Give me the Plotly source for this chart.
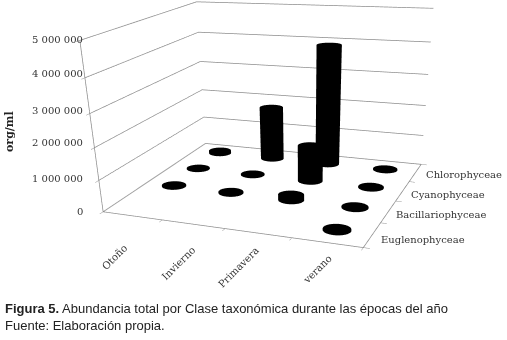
import numpy as np
import plotly.graph_objects as go

seasons = ["Otoño", "Invierno", "Primavera", "verano"]
classes = ["Euglenophyceae", "Bacillariophyceae", "Cyanophyceae", "Chlorophyceae"]
z_ticks = [0, 1000000, 2000000, 3000000, 4000000, 5000000]
z_labels = ["0", "1 000 000", "2 000 000", "3 000 000", "4 000 000", "5 000 000"]
euglenophyceae = [0, 0, 0, 40000]
bacillariophyceae = [30000, 30000, 170000, 30000]
cyanophyceae = [20000, 20000, 1180000, 30000]
chlorophyceae = [90000, 1800000, 3950000, 30000]
values = [euglenophyceae, bacillariophyceae, cyanophyceae, chlorophyceae]

W, H = 507, 650
RADIUS = 0.2
N = 48
LINE = "#8c8c8c"
SERIF = "DejaVu Serif"


def px(x):
    return x / W


def py(y):
    return 1 - y / H


def cylinder(cx, cy, h):
    t = np.linspace(0, 2 * np.pi, N, endpoint=False)
    xs = np.concatenate([cx + RADIUS * np.cos(t), cx + RADIUS * np.cos(t), [cx, cx]])
    ys = np.concatenate([cy + RADIUS * np.sin(t), cy + RADIUS * np.sin(t), [cy, cy]])
    zs = np.concatenate([np.zeros(N), np.full(N, h), [0, h]])
    i, j, k = [], [], []
    for a in range(N):
        b = (a + 1) % N
        i += [a, b, a, a + N]
        j += [b, b + N, b, b + N]
        k += [a + N, a + N, 2 * N, 2 * N + 1]
    return go.Mesh3d(x=xs, y=ys, z=zs, i=i, j=j, k=k, color="#000000", flatshading=False,
                     lighting=dict(ambient=1, diffuse=0, specular=0, roughness=1, fresnel=0),
                     hoverinfo="skip", showscale=False)


fig = go.Figure()
for r, row in enumerate(values):
    for c, v in enumerate(row):
        if v > 0:
            fig.add_trace(cylinder(c + 0.5, r + 0.5, v))

fig.add_trace(go.Scatter3d(x=[0, 0, 4, 4], y=[0, 4, 4, 0], z=[0, 0, 0, 0], mode="lines",
                           line=dict(color=LINE, width=1.5), hoverinfo="skip", showlegend=False))

axis_common = dict(showbackground=False, showgrid=False, zeroline=False, showspikes=False,
                   showticklabels=False, title="", showline=True, linecolor=LINE, linewidth=1.5,
                   ticks="outside", ticklen=5, tickcolor=LINE, tickwidth=1)

ann = []
for s, (x, y) in zip(seasons, [(114, 257), (178, 263), (238, 267), (317, 269)]):
    ann.append(dict(x=px(x), y=py(y), text=s, textangle=-45, xanchor="center"))
for s, (x, y) in zip(classes, [(379, 239), (394, 214), (409, 194), (424, 175)]):
    ann.append(dict(x=px(x), y=py(y), text=s, xanchor="left"))
for s, y in zip(z_labels, [212, 178, 143, 110, 74, 39]):
    ann.append(dict(x=px(85), y=py(y), text=s, xanchor="right"))
for a in ann:
    a.update(xref="paper", yref="paper", showarrow=False, yanchor="middle",
             font=dict(family=SERIF, size=10, color="#333"))
ann += [
    dict(xref="paper", yref="paper", x=px(10), y=py(132), text="<b>org/ml</b>", textangle=-90, xanchor="center",
         showarrow=False, yanchor="middle", font=dict(family=SERIF, size=11, color="#222")),
    dict(xref="paper", yref="paper", x=px(3), y=py(308), xanchor="left", yanchor="middle", showarrow=False,
         text="<b>Figura 5.</b> Abundancia total por Clase taxonómica durante las épocas del año",
         font=dict(family="Liberation Sans", size=13, color="#222")),
    dict(xref="paper", yref="paper", x=px(3), y=py(326), xanchor="left", yanchor="middle", showarrow=False,
         text="Fuente: Elaboración propia.",
         font=dict(family="Liberation Sans", size=13, color="#222")),
]

fig.update_layout(
    width=W, height=H, margin=dict(l=0, r=0, t=0, b=0), paper_bgcolor="white",
    showlegend=False, annotations=ann,
    scene=dict(
        domain=dict(x=[0, 1], y=[0, 1]),
        xaxis=dict(axis_common, range=[0, 4], tickvals=[0, 1, 2, 3, 4]),
        yaxis=dict(axis_common, range=[0, 4], tickvals=[0, 1, 2, 3, 4]),
        zaxis=dict(axis_common, range=[0, 5000000], tickvals=z_ticks, showgrid=True,
                   gridcolor=LINE, gridwidth=1.5),
        aspectmode="manual", aspectratio=dict(x=1.35, y=1.19, z=0.825),
        camera=dict(eye=dict(x=1.495, y=-3.706, z=1.05), center=dict(x=0.12, y=-0.574, z=-0.929),
                    up=dict(x=-0.168, y=0.473, z=0.865), projection=dict(type="perspective")),
    ),
)
fig.write_html("out.html", config={"displayModeBar": False},
               post_script="document.documentElement.style.overflow='hidden';document.body.style.margin='0';")
